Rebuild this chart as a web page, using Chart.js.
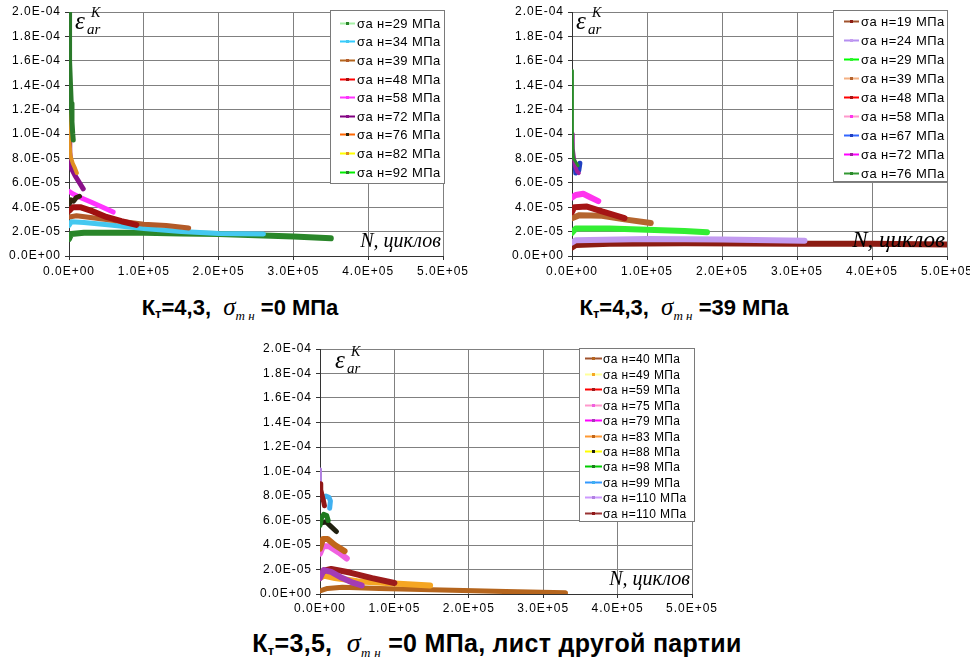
<!DOCTYPE html>
<html>
<head>
<meta charset="utf-8">
<script src="https://cdn.jsdelivr.net/npm/chart.js@4.4.0/dist/chart.umd.min.js"></script>
<style>
  html, body { margin: 0; padding: 0; background: #fff; width: 970px; height: 665px; overflow: hidden; position: relative; }
  canvas { position: absolute; }
  .title { position: absolute; text-align: center; white-space: nowrap; color: #000;
           font: bold 22px "Liberation Sans", Arial, sans-serif; }
  .title sub { font-size: 13px; vertical-align: -3px; line-height: 0; }
  .sig { font: italic 25px "Liberation Serif", "Times New Roman", serif; }
  .sig sub { font: italic 13px "Liberation Serif", "Times New Roman", serif; vertical-align: -5px; }
  .big { font-size: 25px; letter-spacing: 0.3px; }
  .big .sig { font-size: 28px; }
</style>
</head>
<body>
<canvas id="c1" width="480" height="285" style="left:0;top:0"></canvas>
<canvas id="c2" width="500" height="285" style="left:500px;top:0"></canvas>
<canvas id="c3" width="480" height="285" style="left:250px;top:337px"></canvas>

<div class="title" style="left:90px;width:300px;top:293px">К<sub>т</sub>=4,3,&nbsp; <span class="sig">σ<sub>т н</sub></span> =0 МПа</div>
<div class="title" style="left:534px;width:300px;top:293px">К<sub>т</sub>=4,3,&nbsp; <span class="sig">σ<sub>т н</sub></span> =39 МПа</div>
<div class="title big" style="left:247px;width:500px;top:627px">К<sub>т</sub>=3,5,&nbsp; <span class="sig">σ<sub>т н</sub></span> =0 МПа, лист другой партии</div>

<script>
'use strict'

// axis tick labels (Excel scientific format)
const xTickLabels = ['0.0E+00', '1.0E+05', '2.0E+05', '3.0E+05', '4.0E+05', '5.0E+05'];
const yTickLabels = ['0.0E+00', '2.0E-05', '4.0E-05', '6.0E-05', '8.0E-05', '1.0E-04',
                     '1.2E-04', '1.4E-04', '1.6E-04', '1.8E-04', '2.0E-04'];

// ---- Kт=4,3, σт н=0 МПа : [N, eps] ----
const p1Labels = ['σa н=29 МПа', 'σa н=34 МПа', 'σa н=39 МПа', 'σa н=48 МПа', 'σa н=58 МПа',
                  'σa н=72 МПа', 'σa н=76 МПа', 'σa н=82 МПа', 'σa н=92 МПа'];
const p1s29 = [[0, 1.4e-5], [3e3, 1.8e-5], [2e4, 1.9e-5], [1e5, 1.9e-5], [1.5e5, 1.85e-5], [2e5, 1.8e-5], [2.5e5, 1.7e-5], [3e5, 1.6e-5], [3.5e5, 1.45e-5]];
const p1s34 = [[0, 2.5e-5], [3e3, 2.8e-5], [2e4, 2.75e-5], [5.5e4, 2.55e-5], [1e5, 2.25e-5], [1.5e5, 2.0e-5], [2e5, 1.85e-5], [2.6e5, 1.8e-5]];
const p1s39 = [[0, 3.2e-5], [1e4, 3.3e-5], [5e4, 3.0e-5], [1e5, 2.6e-5], [1.3e5, 2.5e-5], [1.6e5, 2.3e-5]];
const p1s48 = [[0, 3.7e-5], [5e3, 4.0e-5], [1.5e4, 4.0e-5], [3e4, 3.7e-5], [5e4, 3.2e-5], [7e4, 2.85e-5], [9e4, 2.55e-5]];
const p1s58 = [[0, 5.3e-5], [5e3, 5.1e-5], [1.5e4, 4.8e-5], [3e4, 4.4e-5], [4.5e4, 4.0e-5], [5.9e4, 3.6e-5]];
const p1s72 = [[0, 1.0e-4], [1e3, 8.5e-5], [3e3, 7.2e-5], [8e3, 6.6e-5], [1.4e4, 6.0e-5], [1.9e4, 5.5e-5]];
const p1s76 = [[500, 4.3e-5], [3e3, 4.6e-5], [6e3, 4.5e-5], [1e4, 4.8e-5], [1.4e4, 4.9e-5]];
const p1s82 = [[0, 1.9e-4], [300, 1.3e-4], [800, 9.5e-5], [2e3, 8.2e-5], [5e3, 7.6e-5], [8e3, 7.2e-5], [1.05e4, 6.8e-5]];
const p1s92 = [[0, 2.0e-4], [500, 1.75e-4], [1e3, 1.6e-4], [2e3, 1.4e-4], [3e3, 1.25e-4], [4e3, 1.1e-4], [5e3, 1.0e-4], [5.7e3, 9.5e-5]];

// ---- Kт=4,3, σт н=39 МПа ----
const p2Labels = ['σa н=19 МПа', 'σa н=24 МПа', 'σa н=29 МПа', 'σa н=39 МПа', 'σa н=48 МПа',
                  'σa н=58 МПа', 'σa н=67 МПа', 'σa н=72 МПа', 'σa н=76 МПа'];
const p2s19 = [[0, 7e-6], [5e3, 9e-6], [5e4, 1.0e-5], [1.5e5, 1.05e-5], [3e5, 1.0e-5], [4e5, 1.0e-5], [5e5, 9.5e-6]];
const p2s24 = [[0, 1.1e-5], [5e3, 1.3e-5], [1e5, 1.4e-5], [2e5, 1.35e-5], [3.1e5, 1.25e-5]];
const p2s29 = [[0, 1.9e-5], [5e3, 2.25e-5], [5e4, 2.25e-5], [1e5, 2.15e-5], [1.5e5, 2.05e-5], [1.8e5, 1.95e-5]];
const p2s39 = [[0, 3.1e-5], [1e4, 3.35e-5], [4e4, 3.3e-5], [7e4, 3.0e-5], [1.05e5, 2.7e-5]];
const p2s48 = [[0, 3.6e-5], [3e3, 4.0e-5], [2e4, 4.05e-5], [4e4, 3.65e-5], [7e4, 3.1e-5]];
const p2s58 = [[0, 4.8e-5], [5e3, 5.0e-5], [1.5e4, 5.1e-5], [2.5e4, 4.8e-5], [3.5e4, 4.5e-5]];
const p2s67 = [[4e3, 7.5e-5], [5e3, 6.8e-5], [9e3, 7.0e-5], [1.05e4, 7.6e-5]];
const p2s72 = [[0, 1.0e-4], [1e3, 8.8e-5], [4e3, 7.4e-5], [7e3, 6.9e-5], [9e3, 6.8e-5]];
const p2s76 = [[0, 1.52e-4], [300, 1.2e-4], [800, 9.5e-5], [2e3, 8.0e-5], [5e3, 7.7e-5], [8e3, 7.4e-5]];

// ---- Kт=3,5, σт н=0 МПа, лист другой партии ----
const p3Labels = ['σa н=40 МПа', 'σa н=49 МПа', 'σa н=59 МПа', 'σa н=75 МПа', 'σa н=79 МПа', 'σa н=83 МПа',
                  'σa н=88 МПа', 'σa н=98 МПа', 'σa н=99 МПа', 'σa н=110 МПа', 'σa н=110 МПа'];
const p3s40 = [[0, 2.5e-6], [1e4, 4.5e-6], [3e4, 5.5e-6], [8e4, 4.5e-6], [1.5e5, 3.5e-6], [2.5e5, 2.0e-6], [3.3e5, 1.0e-6]];
const p3s49 = [[0, 1.3e-5], [5e3, 1.5e-5], [2e4, 1.3e-5], [5e4, 1.05e-5], [1e5, 8.5e-6], [1.48e5, 7.0e-6]];
const p3s59 = [[0, 1.5e-5], [5e3, 1.9e-5], [1.5e4, 2.05e-5], [4e4, 1.75e-5], [7e4, 1.3e-5], [1e5, 9.0e-6]];
const p3s75 = [[0, 3.3e-5], [4e3, 3.9e-5], [1.2e4, 3.9e-5], [2.5e4, 3.4e-5], [3.6e4, 2.9e-5]];
const p3s79 = [[0, 1.3e-5], [5e3, 1.95e-5], [1.5e4, 1.8e-5], [3e4, 1.3e-5], [4.5e4, 9.0e-6], [5.6e4, 7.0e-6]];
const p3s83 = [[0, 3.7e-5], [4e3, 4.5e-5], [1e4, 4.5e-5], [2e4, 4.0e-5], [3.3e4, 3.5e-5]];
const p3s88 = [[2e3, 5.8e-5], [8e3, 5.9e-5], [1.5e4, 5.5e-5], [2.2e4, 5.1e-5]];
const p3s98 = [[0, 5.6e-5], [2e3, 6.2e-5], [5e3, 6.5e-5], [9e3, 6.4e-5], [1.1e4, 6.0e-5]];
const p3s99 = [[4e3, 7.8e-5], [8e3, 8.0e-5], [1.2e4, 7.9e-5], [1.4e4, 7.6e-5], [1.3e4, 7.0e-5]];
const p3s110a = [[0, 1.02e-4], [300, 9.5e-5], [1e3, 8.8e-5], [2.5e3, 8.2e-5]];
const p3s110b = [[0, 9.0e-5], [1e3, 8.5e-5], [3e3, 8.0e-5], [5e3, 7.5e-5], [6e3, 7.2e-5]];

// legend line colours and the colours of the plotted bands
const p1Line = ['#a6f0a6', '#33ccff', '#b5651d', '#ff0000', '#ff33ff', '#800080', '#ff6600', '#ffff00', '#00ee00'];
const p1Mark = ['#2a862a', '#44c8f0', '#b35a28', '#a01010', '#ff33ff', '#8a108a', '#30240c', '#e09020', '#2a7a2a'];
const p1Width = [6, 5, 5, 6, 5, 5, 5, 4, 5];

const p2Line = ['#a0522d', '#b58ff0', '#00ff00', '#f4b183', '#ff0000', '#ff99cc', '#3366ff', '#ff00ff', '#339933'];
const p2Mark = ['#8c1c13', '#c39bf0', '#33ee33', '#b5652e', '#a51515', '#ff33ee', '#2040c0', '#a020a0', '#2a8a2a'];
const p2Width = [6, 6, 6, 6, 6, 6, 5, 4, 3];

const p3Line = ['#a0522d', '#ffff99', '#ff0000', '#ff99cc', '#ff00ff', '#ff9933', '#ffff00', '#00cc00', '#3399ff', '#cc99ff', '#993333'];
const p3Mark = ['#b5651d', '#f5a623', '#9b1b1b', '#f060e0', '#a33cb5', '#c0661a', '#202010', '#1e7a1e', '#40b0f0', '#b080e0', '#901818'];
const p3Width = [5, 6, 6, 6, 6, 6, 5, 5, 5, 3, 5];

const SANS = '"Liberation Sans", Arial, sans-serif';
const SERIF = '"Liberation Serif", "Times New Roman", serif';

// Excel axis text is set loosely
const wideText = {
  id: 'wideText',
  beforeDraw(chart) { chart.ctx.letterSpacing = '1px'; }
};

// framed legend drawn over the plot area, Excel style
const boxLegend = {
  id: 'boxLegend',
  afterDatasetsDraw(chart, args, o) {
    const ctx = chart.ctx;
    ctx.save();
    ctx.letterSpacing = o.spacing;
    ctx.fillStyle = '#fff';
    ctx.fillRect(o.x, o.y, o.w, o.h);
    ctx.strokeStyle = '#7a7a7a';
    ctx.lineWidth = 1;
    ctx.strokeRect(o.x + 0.5, o.y + 0.5, o.w, o.h);
    ctx.font = o.font;
    ctx.textBaseline = 'middle';
    chart.data.datasets.forEach((ds, i) => {
      const y = Math.round(o.y + o.first + i * o.row) + 0.5;
      ctx.strokeStyle = ds.legendColor;
      ctx.lineWidth = 2;
      ctx.beginPath();
      ctx.moveTo(o.x + o.lineX, y);
      ctx.lineTo(o.x + o.lineX + o.lineW, y);
      ctx.stroke();
      ctx.fillStyle = ds.borderColor;
      ctx.fillRect(o.x + o.lineX + o.lineW / 2 - 1.5, y - 1.5, 3, 3);
      ctx.fillStyle = '#000';
      ctx.fillText(ds.label, o.x + o.textX, y + 1);
    });
    ctx.restore();
  }
};

// eps_ar^K in the top-left corner and "N, циклов" in the bottom-right corner
const axisNotes = {
  id: 'axisNotes',
  afterDraw(chart, args, o) {
    const ctx = chart.ctx, a = chart.chartArea;
    ctx.save();
    ctx.letterSpacing = '0px';
    ctx.fillStyle = '#000';
    ctx.textBaseline = 'alphabetic';
    ctx.font = 'italic 25px ' + SERIF;
    ctx.fillText('ε', a.left + o.ex, a.top + o.ey);
    ctx.font = 'italic 15px ' + SERIF;
    ctx.fillText('ar', a.left + o.ex + 12, a.top + o.ey + 5);
    ctx.font = 'italic 14px ' + SERIF;
    ctx.fillText('K', a.left + o.ex + 16, a.top + o.ey - 12);
    ctx.font = 'italic ' + o.nSize + 'px ' + SERIF;
    ctx.textAlign = 'right';
    ctx.fillText('N, циклов', a.right - 2, a.bottom - o.nBase);
    ctx.restore();
  }
};

function drawPanel(id, labels, series, lineColors, markColors, widths, box, notes, frame) {
  const n = series.length;
  new Chart(document.getElementById(id), {
    type: 'scatter',
    data: {
      datasets: series.map((pts, i) => ({
        label: labels[i],
        data: pts.map(p => ({ x: p[0], y: p[1] })),
        showLine: true,
        borderColor: markColors[i],
        backgroundColor: markColors[i],
        legendColor: lineColors[i],
        borderWidth: widths[i],
        borderJoinStyle: 'round',
        borderCapStyle: 'round',
        pointRadius: 0,
        order: n - i
      }))
    },
    options: {
      responsive: false,
      animation: false,
      devicePixelRatio: 1,
      layout: { padding: { top: frame.top, right: frame.right, left: 0, bottom: 0 } },
      plugins: {
        legend: { display: false },
        tooltip: { enabled: false },
        boxLegend: box,
        axisNotes: notes
      },
      scales: {
        x: {
          type: 'linear', min: 0, max: 5e5,
          ticks: { stepSize: 1e5, autoSkip: false, maxRotation: 0, padding: frame.xPad, color: '#000',
                   font: { family: SANS, size: frame.font }, callback: (v, i) => xTickLabels[i] },
          grid: { color: '#808080', tickColor: '#333', tickLength: 4 },
          border: { color: '#333' },
          afterFit: s => { s.height = frame.xh; }
        },
        y: {
          type: 'linear', min: 0, max: 2e-4,
          ticks: { stepSize: 2e-5, autoSkip: false, padding: 4, color: '#000',
                   font: { family: SANS, size: frame.font }, callback: (v, i) => yTickLabels[i] },
          grid: { color: '#808080', tickColor: '#333', tickLength: 4 },
          border: { color: '#333' },
          afterFit: s => { s.width = frame.yw; }
        }
      }
    },
    plugins: [wideText, boxLegend, axisNotes]
  });
}

// top left
drawPanel('c1', p1Labels, [p1s29, p1s34, p1s39, p1s48, p1s58, p1s72, p1s76, p1s82, p1s92], p1Line, p1Mark, p1Width,
  { x: 330, y: 10, w: 114, h: 173, first: 12.7, row: 18.6, lineX: 10, lineW: 15, textX: 27, font: '13px ' + SANS, spacing: '0.4px' },
  { ex: 6, ey: 17, nSize: 20, nBase: 9 },
  { top: 12, right: 37, yw: 69, xh: 29, font: 12, xPad: 4 });

// top right
drawPanel('c2', p2Labels, [p2s19, p2s24, p2s29, p2s39, p2s48, p2s58, p2s67, p2s72, p2s76], p2Line, p2Mark, p2Width,
  { x: 333, y: 10, w: 114, h: 171, first: 11, row: 18.96, lineX: 11, lineW: 15, textX: 28, font: '13px ' + SANS, spacing: '0.4px' },
  { ex: 4, ey: 17, nSize: 23, nBase: 9 },
  { top: 12, right: 53, yw: 72, xh: 29, font: 12, xPad: 4 });

// bottom
drawPanel('c3', p3Labels, [p3s40, p3s49, p3s59, p3s75, p3s79, p3s83, p3s88, p3s98, p3s99, p3s110a, p3s110b], p3Line, p3Mark, p3Width,
  { x: 329, y: 11, w: 115, h: 173, first: 10.3, row: 15.45, lineX: 6, lineW: 17, textX: 24, font: '12px ' + SANS, spacing: '0.4px' },
  { ex: 15, ey: 19, nSize: 20, nBase: 9 },
  { top: 12, right: 38, yw: 70, xh: 28, font: 12, xPad: 3 });
</script>
</body>
</html>
